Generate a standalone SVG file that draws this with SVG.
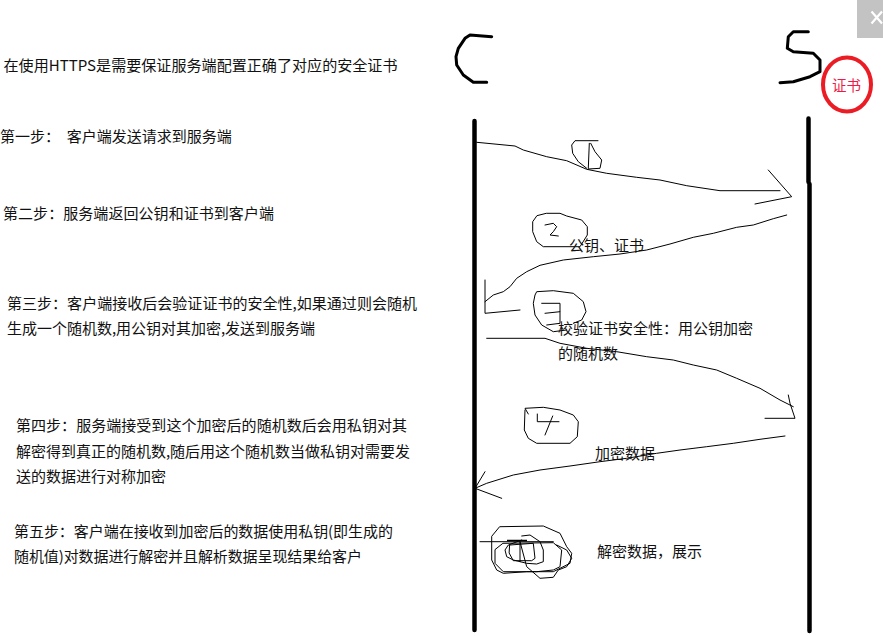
<svg xmlns="http://www.w3.org/2000/svg" width="883" height="636" viewBox="0 0 883 636">
<style>
.txt{font-family:"Microsoft YaHei","Noto Sans CJK SC","Noto Sans",sans-serif;font-size:15px;fill:#111}
.thin{fill:none;stroke:#000;stroke-width:1;stroke-linejoin:round;stroke-linecap:round}
.life{fill:none;stroke:#000;stroke-width:4.5;stroke-linecap:round}
.letter{fill:none;stroke:#000;stroke-width:3;stroke-linejoin:round;stroke-linecap:round}
</style>
<rect width="883" height="636" fill="#fff"/>

<g id="close-button">
<rect x="857" y="0" width="26" height="38" fill="#c3c3c3"/>
<path d="M871.5,11.5 L882,23.5 M882,11.5 L871.5,23.5" stroke="#fff" stroke-width="2.2" fill="none"/>
</g>

<g id="notes">
<text class="txt" x="3.5" y="70.5" textLength="394" lengthAdjust="spacingAndGlyphs">在使用HTTPS是需要保证服务端配置正确了对应的安全证书</text>
<text class="txt" x="0" y="142" xml:space="preserve">第一步：  客户端发送请求到服务端</text>
<text class="txt" x="3" y="219" textLength="271">第二步：服务端返回公钥和证书到客户端</text>
<text class="txt" x="7" y="308.5" textLength="410">第三步：客户端接收后会验证证书的安全性,如果通过则会随机</text>
<text class="txt" x="7" y="334" textLength="308">生成一个随机数,用公钥对其加密,发送到服务端</text>
<text class="txt" x="16" y="430.5" textLength="391">第四步：服务端接受到这个加密后的随机数后会用私钥对其</text>
<text class="txt" x="16" y="457" textLength="394">解密得到真正的随机数,随后用这个随机数当做私钥对需要发</text>
<text class="txt" x="16" y="482">送的数据进行对称加密</text>
<text class="txt" x="14" y="537" textLength="379">第五步：客户端在接收到加密后的数据使用私钥(即生成的</text>
<text class="txt" x="14" y="562" textLength="348">随机值)对数据进行解密并且解析数据呈现结果给客户</text>
</g>

<g id="client">
<path class="letter" d="M491.7,36.7 L470,35 L465,38.3 L458.3,48.3 L456,56.7 L456.7,65 L463.3,75 L473.3,82.3 L486.7,82.3"/>
<path class="life" d="M474.5,121 L474.5,630"/>
</g>

<g id="server">
<path class="letter" d="M808.3,31.7 L793.3,31.7 L788.3,36.7 L787.3,48.3 L793.3,51.7 L813.3,53.3 L820,60 L820,71.7 L810,76.7 L793.3,81.7 L780,82.7"/>
<path class="life" d="M808.5,118.5 L808.5,182 M809.5,184 L809.5,631"/>
</g>

<g id="certificate">
<ellipse cx="847" cy="84.5" rx="24" ry="27" fill="none" stroke="#ec1c24" stroke-width="4"/>
<text x="832" y="91" style="font-family:'Microsoft YaHei','Noto Sans CJK SC',sans-serif;font-size:14.5px;fill:#ef1848">证书</text>
</g>

<g id="connectors">
<g id="step1">
<path class="thin" d="M476.7,142.3 L515,146 L523.3,150 L546.7,156.7 L566.7,160.7 L586.7,169.3 L606.7,173.3 L636.7,177.3 L660,180 L686.7,185.7 L720,190.7 L780,190.7"/>
<path class="thin" d="M768.3,170 L791.7,196.7 L755,204"/>
<path class="thin" d="M598,140.7 L575,140.7 L571.7,145 L572.7,153.3 L578.3,161.7 L586.7,168.3"/>
<path class="thin" d="M589.3,143.3 L588.3,168.3 M590.7,143.3 L595,151.7 L601.7,160 L600,168.3 L588.3,169"/>
</g>
<g id="step2">
<path class="thin" d="M786.7,215 L773.3,218.7 L753.3,225 L736.7,227.3 L713.3,233.3 L693.3,237.3 L670,244 L646.7,250 L620,254 L593.3,256.7 L563.3,260 L540,265.3 L526.7,271.7 L516.7,278.3 L510,286.7 L503.3,291.7 L493.3,295 L485,301.7"/>
<path class="thin" d="M485,280 L485,313.3 L520,310"/>
<path class="thin" d="M546.7,213.3 L560,213.3 L566.7,216 L581.7,220 L587.3,226.7 L587.3,235 L580,246.7 L543.3,246.7 L536.7,241.7 L532.7,231.7 L532.7,221.7 L536.7,216 Z"/>
<path class="thin" d="M545,225 L553.3,223.3 L556.7,226.7 L553.3,231.7 L550,235 L558.3,236"/>
</g>
<g id="step3">
<path class="thin" d="M486.7,338.3 L545,338.3 L560,343.3 L586.7,348.3 L616.7,351.7 L646.7,356.7 L673.3,360 L693.3,365 L716.7,370 L736.7,378.3 L760,388.3 L780,400 L793.3,406.7"/>
<path class="thin" d="M788.3,395 L790,403.3 L795,418.3 L765,418.3"/>
<path class="thin" d="M573.3,323.3 L581.7,320 L586,311.7 L583.3,301.7 L573.3,293.3 L553.3,290.7 L536.7,291.7 L535,295 L533.3,303.3 L535,315 L541.7,325 L553.3,331.7 L566.7,330"/>
<path class="thin" d="M541.7,303.3 L560,303.3 L560,311.7 L545,313.3 M560,311.7 L560,323.3 L546.7,325"/>
</g>
<g id="step4">
<path class="thin" d="M785,436 L760,439.3 L733.3,443.3 L706.7,446.7 L680,450 L656.7,453.3 L626.7,458.3 L600,461.7 L570,466 L540,470 L513.3,475 L486.7,483.3 L475,488.3"/>
<path class="thin" d="M485,471.7 L475,488.3 L501.7,498.3"/>
<path class="thin" d="M528.3,414 L525,408.3 L543.3,407.3 L560,410 L573.3,415 L578.3,421.7 L577.3,436.7 L570,443.3 L536.7,443.3 L528.3,438.3 L524.3,430 L525,410"/>
<path class="thin" d="M537.3,414 L537.3,421.7 L559,421.7 M552.7,416 L545,435"/>
</g>
<g id="step5">
<path class="thin" d="M480,541.7 L553.3,541.7"/>
<path class="thin" d="M500,526.7 L543.3,526 L560,533.3 L566.7,546.7 L571.7,553.3 L570,563.3 L553.3,571.7 L526.7,571.7 L503.3,573.3 L496.7,570 L491.7,560 L491.7,536.7 Z"/>
<path class="thin" d="M503.3,543.3 L553.3,542.7 L561.7,550 L560,566.7 L553.3,570 L536.7,571.7 L503.3,571.7 L495,563.3 L495,550 Z"/>
<path class="thin" d="M521.7,536 L530,535 L540,541.7 L543.3,550 L543.3,561.7 L536.7,564 L526.7,563.3 L513.3,560 L506.7,556.7 L505,550 L508.3,545 L521.7,540"/>
<path class="thin" d="M510,545 L533.3,543.3 L535,558.3 L531.7,560.7 L513.3,560.7 L509.3,553.3 Z"/>
<path class="thin" d="M520,541.7 L526.7,566.7 L540,578.3 L553.3,577.3 L558.3,570 L566.7,566.7 L571.7,558.3 L566.7,550 L556.7,545"/>
<path class="thin" d="M520,541.7 L520,561.7"/>
<path d="M507,540.5 L527,540.5" stroke="#000" stroke-width="1.5"/>
</g>
</g>

<g id="labels">
<text class="txt" x="569" y="250.5">公钥、证书</text>
<text class="txt" x="558" y="334">校验证书安全性：用公钥加密</text>
<text class="txt" x="558" y="359">的随机数</text>
<text class="txt" x="595" y="459">加密数据</text>
<text class="txt" x="597" y="557">解密数据，展示</text>
</g>
</svg>
